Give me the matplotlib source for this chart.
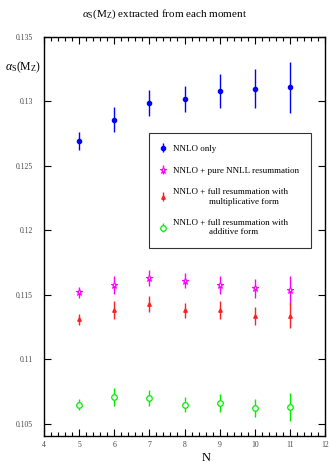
import matplotlib
matplotlib.use("Agg")
import matplotlib.pyplot as plt
import numpy as np
from matplotlib.ticker import MultipleLocator

plt.rcParams['font.family'] = ['Liberation Serif', 'DejaVu Serif']
plt.rcParams['mathtext.fontset'] = 'custom'
plt.rcParams['mathtext.rm'] = 'Liberation Serif'
plt.rcParams['mathtext.it'] = 'Liberation Serif:italic'

N = [5, 6, 7, 8, 9, 10, 11]
nnlo = [0.1269, 0.1286, 0.1299, 0.1302, 0.1308, 0.1310, 0.1311]
nnlo_err = [0.0007, 0.0010, 0.0010, 0.0010, 0.0013, 0.0015, 0.0020]
pure = [0.1152, 0.1158, 0.1163, 0.1161, 0.1158, 0.1155, 0.1154]
pure_err = [0.0004, 0.0007, 0.0006, 0.0006, 0.0007, 0.0007, 0.0011]
mult = [0.1131, 0.1138, 0.1143, 0.1138, 0.1138, 0.1134, 0.1134]
mult_err = [0.0004, 0.0007, 0.0006, 0.0006, 0.0007, 0.0007, 0.0010]
add = [0.1065, 0.1071, 0.1070, 0.1065, 0.1066, 0.1062, 0.1063]
add_err = [0.0004, 0.0007, 0.0006, 0.0006, 0.0007, 0.0007, 0.0011]

labels = ["NNLO only",
          "NNLO + pure NNLL resummation",
          "NNLO + full resummation with\n                multiplicative form",
          "NNLO + full resummation with\n                additive form"]

fig = plt.figure(figsize=(3.29, 4.63), dpi=100)
ax = fig.add_axes([44/329, 1-435.5/463, (325-44)/329, (435.5-37)/463])

h1 = ax.errorbar(N, nnlo, yerr=nnlo_err, fmt='o', color='#0000ff', ms=3, elinewidth=1, capsize=0)
h2 = ax.errorbar(N, pure, yerr=pure_err, fmt='*', color='#ff00ff', mfc='white', mec='#ff00ff', mew=0.8, ms=5, elinewidth=1, capsize=0)
h3 = ax.errorbar(N, mult, yerr=mult_err, fmt='^', color='#ff2020', ms=2.5, elinewidth=1, capsize=0)
h4 = ax.errorbar(N, add, yerr=add_err, fmt='o', color='#00ee00', mfc='white', mec='#00ee00', mew=0.9, ms=4, elinewidth=1, capsize=0)

ax.set_xlim(4, 12)
ax.set_ylim(0.1041, 0.135)
ax.xaxis.set_major_locator(MultipleLocator(1))
ax.xaxis.set_minor_locator(MultipleLocator(0.2))
ax.tick_params(axis='both', which='both', direction='in', top=True, right=True,
               labelsize=5.5, labelcolor='#444444', width=0.8)
ax.tick_params(axis='both', which='major', length=5)
ax.tick_params(axis='x', which='minor', length=3)
ax.tick_params(axis='x', pad=4)
ax.tick_params(axis='y', pad=8)
ax.set_yticks([0.105, 0.11, 0.115, 0.12, 0.125, 0.13, 0.135])
ax.set_yticklabels(['0.105', '0.11', '0.115', '0.12', '0.125', '0.13', '0.135'])
for s in ax.spines.values():
    s.set_linewidth(1.0)

leg = ax.legend([h1, h2, h3, h4], labels, loc='upper left',
                bbox_to_anchor=((149-44)/281, (435.5-133)/398.5),
                fontsize=6.5, frameon=True, fancybox=False, edgecolor='black',
                handlelength=0.6, handletextpad=0.8, labelspacing=1.5,
                borderpad=1.3, borderaxespad=0)
leg.get_frame().set_linewidth(0.8)

fig.text(0.5, 1-14/463, r'$\alpha_{\rm S}$(M$_{\rm Z}$) extracted from each moment',
         ha='center', va='center', fontsize=8)
fig.text(5/329, 1-67/463, r'$\alpha_{\rm S}$(M$_{\rm Z}$)', ha='left', va='center', fontsize=8.5)
fig.text(206/329, 1-458/463, 'N', ha='center', va='center', fontsize=9)

fig.savefig('out.png', dpi=100)
